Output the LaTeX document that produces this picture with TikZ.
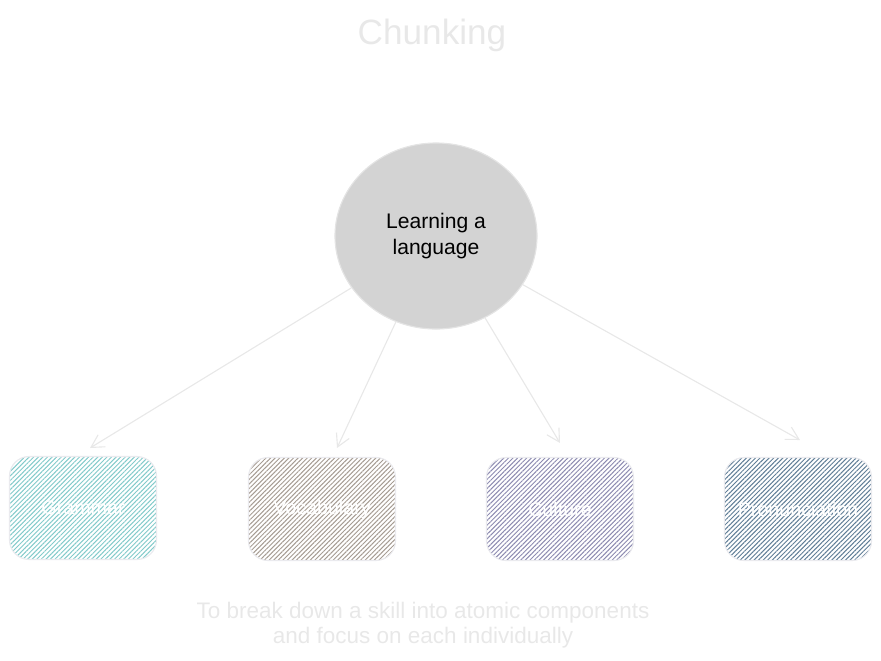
\documentclass[tikz,border=0pt]{standalone}
\usepackage{fontspec}
\setmainfont{Liberation Sans}
\usetikzlibrary{arrows.meta, shapes.geometric, patterns.meta}

\definecolor{faint}{RGB}{232,232,232}
\definecolor{hub}{RGB}{211,211,211}
\definecolor{ringline}{RGB}{228,228,228}
\definecolor{boxline}{RGB}{234,234,238}
\definecolor{hatchA}{RGB}{130,202,202}
\definecolor{hatchB}{RGB}{165,155,146}
\definecolor{hatchC}{RGB}{140,138,176}
\definecolor{hatchD}{RGB}{95,125,150}

\begin{document}
\begin{tikzpicture}[x=0.025cm, y=-0.025cm,
	chunk/.style={rounded corners=14pt, minimum width=3.675cm, minimum height=2.575cm, draw=boxline, thick, text=white, font=\fontsize{14}{17}\selectfont, pattern={Lines[angle=45, distance=2.3pt, line width=0.7pt]}},
	link/.style={-{Straight Barb[length=9pt,width=10pt]}, draw=faint, thick}]
	\useasboundingbox (0,0) rectangle (881,660);
	
	% Title
	\node[text=faint, font=\fontsize{25}{30}\selectfont] (title) at (432,35) {Chunking};
	
	% --- CENTRAL IDEA ---
	\node[ellipse, draw=ringline, thick, fill=hub, minimum width=5.05cm, minimum height=4.65cm, align=center, font=\fontsize{15}{18}\selectfont] (lang) at (436,236) {Learning a\\language};
	
	% --- CHUNKS ---
	\node[chunk, pattern color=hatchA] (gram) at (83,508) {Grammar};
	\node[chunk, pattern color=hatchB] (vocab) at (322,509) {Vocabulary};
	\node[chunk, pattern color=hatchC] (cult) at (560,509) {Culture};
	\node[chunk, pattern color=hatchD] (pron) at (798,509) {Pronunciation};
	
	% Arrow tips (they stop short of the boxes)
	\coordinate (tipA) at (90,448);
	\coordinate (tipB) at (337,448);
	\coordinate (tipC) at (560,443);
	\coordinate (tipD) at (800,440);
	
	\draw[link] (lang) -- (tipA);
	\draw[link] (lang) -- (tipB);
	\draw[link] (lang) -- (tipC);
	\draw[link] (lang) -- (tipD);
	
	% Note
	\node[text=faint, align=center, font=\fontsize{16}{18}\selectfont] (note) at (423,625) {To break down a skill into atomic components\\and focus on each individually};
\end{tikzpicture}
\end{document}
